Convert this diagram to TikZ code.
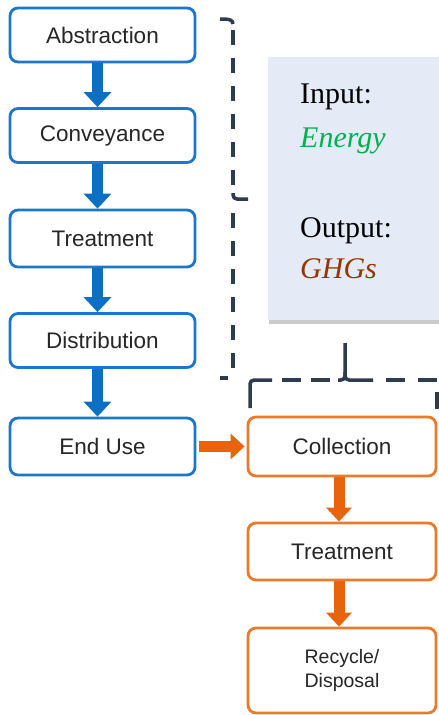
\documentclass[tikz,border=0pt]{standalone}
\usepackage{fontspec}
\setmainfont{Liberation Serif}
\newfontfamily\boxfont{Liberation Sans}
\usetikzlibrary{arrows.meta,shadows}
\definecolor{boxblue}{HTML}{1C76CC}
\definecolor{arrblue}{HTML}{0B6FC4}
\definecolor{boxorange}{HTML}{EC7A2B}
\definecolor{arrorange}{HTML}{E8640C}
\definecolor{txt}{HTML}{262626}
\definecolor{bracecol}{HTML}{2F3B4F}
\definecolor{panel}{HTML}{E4EAF6}
\definecolor{egreen}{HTML}{00B050}
\definecolor{gbrown}{HTML}{993300}
\begin{document}
\begin{tikzpicture}[x=1pt,y=-1pt,
  bbox/.style={draw=boxblue, line width=2.8pt, rounded corners=8pt, fill=white,
    minimum width=185pt, minimum height=54pt, inner sep=0pt, text=txt,
    font=\boxfont\fontsize{22.5}{27}\selectfont, align=center},
  obox/.style={bbox, draw=boxorange, minimum width=188pt, minimum height=57pt},
  barrow/.style={draw=arrblue, line width=11pt, -{Triangle[width=27pt,length=15pt]}},
  oarrow/.style={draw=arrorange, line width=11pt, -{Triangle[width=25pt,length=14pt]}},
  bracepart/.style={draw=bracecol, line width=3.5pt, rounded corners=4pt},
  vdash/.style={bracepart, dash pattern=on 15pt off 13pt},
  hdash/.style={bracepart, dash pattern=on 19pt off 10pt},
  paneltext/.style={anchor=base west, inner sep=0pt, font=\fontsize{30}{36}\selectfont}
]
\useasboundingbox (0,0) rectangle (439,715);

% panel
\fill[panel, drop shadow={shadow xshift=1pt, shadow yshift=-4pt, opacity=0.35, fill=black!60}]
  (268,57) rectangle (445,320);
\node[paneltext] (in) at (300,103) {Input:};
\node[paneltext, text=egreen] (en) at (300,147) {\itshape Energy};
\node[paneltext] (out) at (300,237) {Output:};
\node[paneltext, text=gbrown] (gh) at (300,278) {\itshape GHGs};

% blue chain
\node[bbox] (abs) at (102.5,35) {Abstraction};
\node[bbox] (con) at (102.5,135.5) {Conveyance};
\node[bbox, minimum height=57pt] (tre) at (102.5,238.5) {Treatment};
\node[bbox] (dis) at (102.5,340.5) {Distribution};
\node[bbox, minimum height=57pt] (end) at (102.5,446.5) {End Use};

% orange chain
\node[obox, minimum height=59pt] (col) at (342,446.5) {Collection};
\node[obox] (otr) at (342,551.5) {Treatment};
\node[obox, minimum height=85pt, font=\boxfont\fontsize{19.5}{24}\selectfont] (rec) at (342,670.5) {Recycle/\\Disposal};

% blue arrows
\draw[barrow] ([xshift=-5pt]abs.south) -- ([xshift=-5pt]con.north);
\draw[barrow] ([xshift=-5pt]con.south) -- ([xshift=-5pt]tre.north);
\draw[barrow] ([xshift=-5pt]tre.south) -- ([xshift=-5pt]dis.north);
\draw[barrow] ([xshift=-5pt]dis.south) -- ([xshift=-5pt]end.north);

% orange arrows
\draw[oarrow] ([xshift=3pt]end.east) -- ([xshift=-2pt]col.west);
\draw[oarrow] ([xshift=-3pt]col.south) -- ([xshift=-3pt]otr.north);
\draw[oarrow] ([xshift=-3pt]otr.south) -- ([xshift=-3pt]rec.north);

% left brace
\draw[bracepart] (220,19) .. controls (230,19) and (233,20) .. (233,24);
\draw[vdash] (233,30) -- (233,186);
\draw[bracepart] (233,193) -- (233,199) -- (248,199);
\draw[vdash] (233,213) -- (233,372);
\draw[bracepart] (220,378) -- (228,378);

% bottom brace
\draw[bracepart] (250,408) -- (250,380) -- (272,380);
\draw[hdash] (282,380) -- (331,380);
\draw[bracepart] (338,380) -- (345,380) -- (345,343);
\draw[bracepart] (345,372) -- (345,380) -- (373,380);
\draw[hdash] (386,380) -- (406,380);
\draw[bracepart] (418,380) -- (437,380);
\draw[bracepart] (437,392) -- (437,409);
\end{tikzpicture}
\end{document}
